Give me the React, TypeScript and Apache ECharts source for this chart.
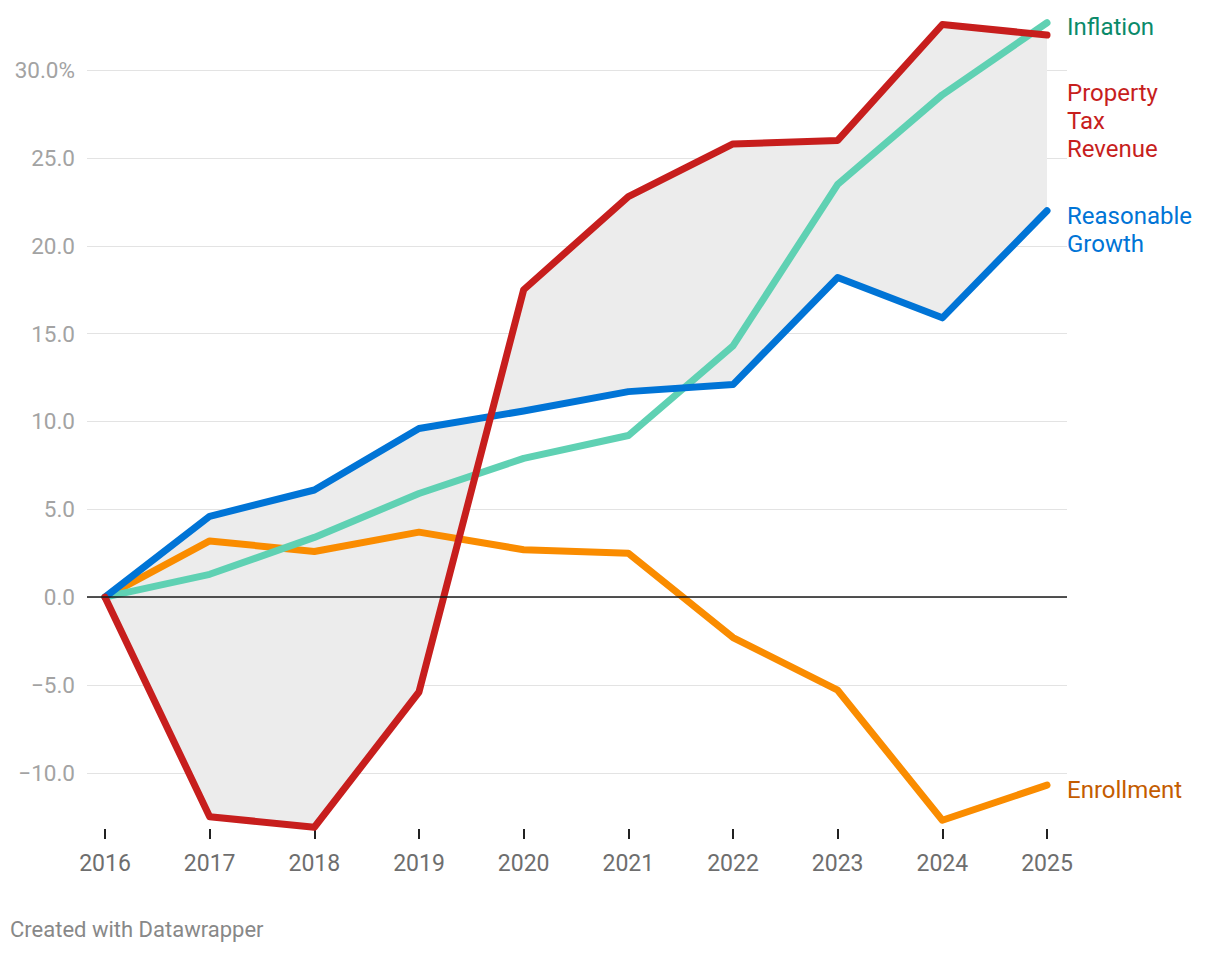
import React, { useEffect, useRef } from "react";
import * as echarts from "echarts";

const years = [2016, 2017, 2018, 2019, 2020, 2021, 2022, 2023, 2024, 2025];
const enrollment = [0, 3.2, 2.6, 3.7, 2.7, 2.5, -2.3, -5.3, -12.7, -10.7];
const inflation = [0, 1.3, 3.4, 5.9, 7.9, 9.2, 14.3, 23.5, 28.6, 32.7];
const reasonableGrowth = [0, 4.6, 6.1, 9.6, 10.6, 11.7, 12.1, 18.2, 15.9, 22.0];
const propertyTax = [0, -12.5, -13.1, -5.4, 17.5, 22.8, 25.8, 26.0, 32.6, 32.0];
const yTicks = [-10, -5, 0, 5, 10, 15, 20, 25, 30];

const FONT = "Roboto, 'Noto Sans', sans-serif";

function pairs(vals: number[]) {
  return years.map((y, i) => [y, vals[i]]);
}

export default function App() {
  const ref = useRef<HTMLDivElement>(null);
  useEffect(() => {
    if (!ref.current) return;
    const chart = echarts.init(ref.current, null, { renderer: "svg" });
    const lineBase = (name: string, vals: number[], color: string, labelColor: string, label: string, dy: number) => ({
      name,
      type: "line",
      data: pairs(vals),
      symbol: "none",
      z: 3,
      lineStyle: { color, width: 7, cap: "round", join: "round" },
      endLabel: {
        show: true,
        formatter: () => label,
        color: labelColor,
        fontSize: 24,
        lineHeight: 28,
        fontFamily: FONT,
        distance: 0,
        offset: [20, dy],
        align: "left",
        verticalAlign: "middle",
      },
    });
    chart.setOption({
      animation: false,
      backgroundColor: "#ffffff",
      textStyle: { fontFamily: FONT },
      grid: { left: 87, right: 153, top: 21, bottom: 125, containLabel: false },
      xAxis: {
        type: "value",
        min: 2015.828,
        max: 2025.191,
        splitNumber: 9,
        axisLine: { show: false, onZero: false },
        splitLine: { show: false },
        axisTick: {
          show: true,
          length: 10,
          lineStyle: { color: "#222", width: 2 },
          customValues: years,
        },
        axisLabel: {
          show: true,
          customValues: years,
          color: "#6e6e6e",
          fontSize: 23,
          fontFamily: FONT,
          margin: 23,
          formatter: (v: number) => String(Math.round(v)),
        },
      },
      yAxis: {
        type: "value",
        min: -13.2,
        max: 32.8,
        splitNumber: 9,
        axisLine: { show: false },
        axisTick: { show: false },
        splitLine: {
          show: true,
          showMinLine: false,
          showMaxLine: false,
          lineStyle: { color: "#e3e3e3", width: 1 },
        },
        axisLabel: {
          show: true,
          customValues: yTicks,
          color: "#a3a3a3",
          fontSize: 22.5,
          fontFamily: FONT,
          margin: 12,
          formatter: (v: number) => {
            const r = Math.round(v * 10) / 10;
            if (r === 30) return "30.0%";
            const s = Math.abs(r).toFixed(1);
            return r < 0 ? "\u2212" + s : s;
          },
        },
      },
      series: [
        {
          type: "custom",
          z: 1,
          silent: true,
          data: [[2016, 0]],
          renderItem: (_params: any, api: any) => {
            const pts: number[][] = [];
            for (let i = 0; i < years.length; i++) pts.push(api.coord([years[i], propertyTax[i]]));
            for (let i = years.length - 1; i >= 0; i--) pts.push(api.coord([years[i], reasonableGrowth[i]]));
            return { type: "polygon", shape: { points: pts }, style: { fill: "#ececec", stroke: "none" } };
          },
        },
        lineBase("Enrollment", enrollment, "#fa8c00", "#c45c00", "Enrollment", 5),
        lineBase("Inflation", inflation, "#5fd1b3", "#0a8a6a", "Inflation", 4),
        lineBase("Reasonable Growth", reasonableGrowth, "#0074d6", "#0074d6", "Reasonable\nGrowth", 19),
        lineBase("Property Tax Revenue", propertyTax, "#c71e1d", "#c71e1d", "Property\nTax\nRevenue", 86),
        {
          type: "line",
          data: [],
          z: 5,
          silent: true,
          markLine: {
            silent: true,
            symbol: "none",
            label: { show: false },
            lineStyle: { color: "#1a1a1a", width: 1.5, type: "solid" },
            data: [{ yAxis: 0 }],
          },
        },
      ],
      graphic: [
        {
          type: "text",
          left: 10,
          top: 918,
          style: { text: "Created with Datawrapper", fill: "#888888", fontSize: 22, fontFamily: FONT },
        },
      ],
    });
    return () => chart.dispose();
  }, []);
  return <div ref={ref} style={{ position: "fixed", left: 0, top: 0, width: 1220, height: 954 }} />;
}
